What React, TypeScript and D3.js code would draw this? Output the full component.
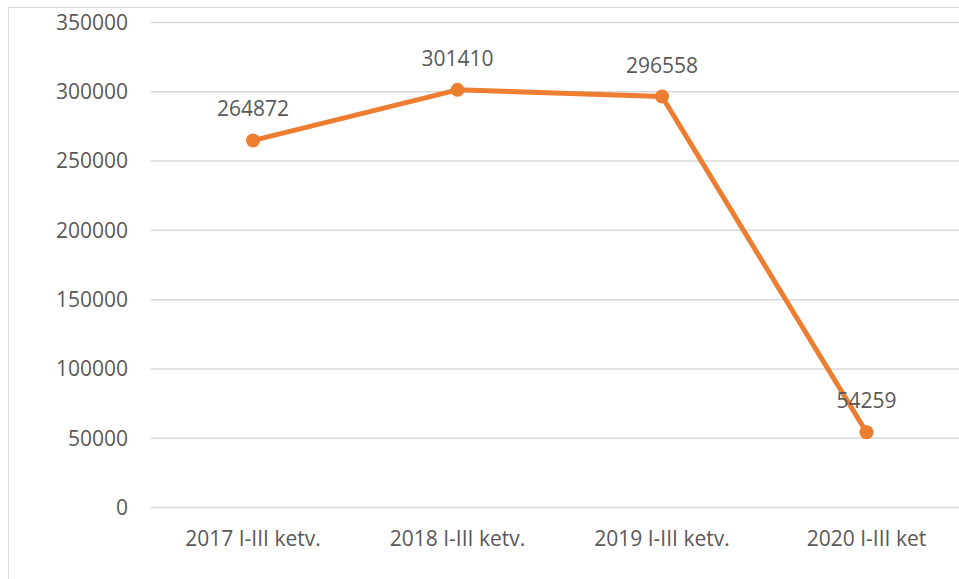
import React from "react";
import * as d3 from "d3";

const categories = ["2017 I-III ketv.", "2018 I-III ketv.", "2019 I-III ketv.", "2020 I-III ket"];
const values = [264872, 301410, 296558, 54259];
const yTicks = [0, 50000, 100000, 150000, 200000, 250000, 300000, 350000];

const W = 959;
const H = 579;
const FONT = "'Open Sans', sans-serif";
const TEXT = "#595959";

export default function App() {
  const x = d3.scaleBand<string>().domain(categories).range([150.75, 968.75]);
  const y = d3.scaleLinear().domain([0, 350000]).range([507.5, 22.5]);
  const cx = (c: string) => (x(c) as number) + x.bandwidth() / 2;
  const line = d3
    .line<number>()
    .x((_, i) => cx(categories[i]))
    .y((d) => y(d));

  return (
    <svg
      width={W}
      height={H}
      style={{ position: "absolute", left: 0, top: 0, display: "block", background: "#fff" }}
    >
      <rect x={8.5} y={7.5} width={W + 20} height={H + 20} fill="#fff" stroke="#d9d9d9" strokeWidth={1} />
      {yTicks.map((t) => (
        <g key={t}>
          <line x1={150.75} x2={W} y1={y(t)} y2={y(t)} stroke="#d9d9d9" strokeWidth={1.5} />
          <text
            x={128}
            y={y(t)}
            dy="0.35em"
            textAnchor="end"
            fontFamily={FONT}
            fontSize={21}
            fill={TEXT}
          >
            {t}
          </text>
        </g>
      ))}
      {categories.map((c) => (
        <text key={c} x={cx(c)} y={546} textAnchor="middle" fontFamily={FONT} fontSize={21} fill={TEXT}>
          {c}
        </text>
      ))}
      <path d={line(values) || ""} fill="none" stroke="#ED7D31" strokeWidth={5} strokeLinejoin="round" />
      {values.map((v, i) => (
        <g key={i}>
          <circle cx={cx(categories[i])} cy={y(v)} r={7} fill="#ED7D31" />
          <text
            x={cx(categories[i])}
            y={y(v) - 24}
            textAnchor="middle"
            fontFamily={FONT}
            fontSize={21}
            fill={TEXT}
          >
            {v}
          </text>
        </g>
      ))}
    </svg>
  );
}
